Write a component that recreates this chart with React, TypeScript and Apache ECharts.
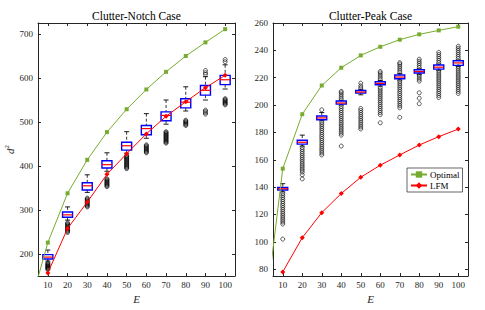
import React, { useEffect, useRef } from "react";
import * as echarts from "echarts";

// ---------- data ----------
const E = [10, 20, 30, 40, 50, 60, 70, 80, 90, 100];
const xTicks = [10, 20, 30, 40, 50, 60, 70, 80, 90, 100];
const notchYTicks = [200, 300, 400, 500, 600, 700];
const peakYTicks = [80, 100, 120, 140, 160, 180, 200, 220, 240, 260];

// leading point of the Optimal curves (outside the visible x range, clipped)
const leadE = 1;
const notchOptimalLead = 83;
const peakOptimalLead = 48;

const notchOptimal = [226, 338, 414, 477, 529, 574, 614, 650, 681, 711];
const notchLFM = [157, 258, 318, 381, 428, 473, 513, 546, 578, 606];
const peakOptimal = [153.5, 193.3, 214.3, 227.3, 236.3, 242.6, 247.8, 251.7, 254.6, 257.3];
const peakLFM = [78, 103, 121.3, 135.3, 147.2, 156, 163.5, 170.8, 176.9, 182.4];

// box stats: [min, Q1, median, Q3, max]
const notchBoxes = [
  [184, 188.6, 193, 198.6, 209],
  [277, 283.4, 289, 295.5, 307],
  [340, 345.5, 355, 362, 380],
  [388, 395.5, 403, 412, 430],
  [429, 436, 446, 454, 478],
  [463, 471, 485, 492, 519],
  [495, 503, 515, 523, 550],
  [525, 532, 545, 553, 580],
  [550, 561, 572, 583, 603],
  [575, 585, 596, 606, 630],
];
const notchOutliers = [
  [180, 178, 176.5, 175, 173.5, 172, 170.5, 169, 167.5, 166, 164.5],
  [271, 269, 267, 265, 263, 261, 259, 257, 255, 253, 251, 249],
  [327, 325, 323, 321, 319, 317, 315, 313, 311, 309, 307],
  [371, 369, 367, 365, 363, 361, 359, 357, 355, 353],
  [424, 422, 420, 418, 416, 414, 412, 410, 408, 406, 404, 402, 400, 398, 396, 394],
  [448, 446, 444, 442, 440, 438, 436, 434, 432, 430],
  [478, 476, 474, 472, 470, 468, 466, 464, 462, 460, 458, 456, 454, 452],
  [504, 502, 500, 498, 496, 494, 492],
  [617, 612, 608, 527, 524, 521, 518],
  [642, 637, 553, 551, 549, 547, 545, 543, 541, 539],
];

const peakBoxes = [
  [136.5, 137.9, 138.8, 139.8, 142.5],
  [170, 171.4, 172.8, 174.3, 178],
  [188.5, 189.2, 190.6, 192, 194.5],
  [200, 200.7, 201.5, 203, 203.5],
  [207.5, 208.7, 209.5, 210.6, 211.5],
  [213.8, 214.8, 215.8, 217, 218],
  [218.3, 219.2, 220.5, 222, 223],
  [222.5, 223.4, 224.5, 225.8, 226.5],
  [225.5, 226.3, 227.7, 229.3, 230],
  [228.3, 229, 230.8, 232.4, 233],
];
const peakOutliers = [
  [135.5, 134, 132.5, 131, 129.5, 128, 126.5, 125, 123.5, 122, 120.5, 119, 117.5, 116, 114.5, 113, 102],
  [169, 167.5, 166, 164.5, 163, 161.5, 160, 158.5, 157, 155.5, 154, 152.5, 151, 149, 146],
  [196.5, 187.5, 186, 184.5, 183, 181.5, 180, 178.5, 177, 175.5, 174, 172.5, 171, 169.5, 168, 166.5, 165, 163.5],
  [204.5, 206, 207.5, 209, 210, 199, 197.5, 196, 194.5, 193, 191.5, 190, 188.5, 187, 185.5, 184, 182.5, 181, 179.5, 178, 170],
  [212.5, 214, 216, 197.5, 196, 194.5, 193, 191.5, 190, 188.5, 187, 185.5, 184, 182.5],
  [219, 220.5, 222, 223.5, 224.5, 212.5, 211, 209.5, 208, 206.5, 205, 203.5, 202, 200.5, 199, 197.5, 196, 194.5, 193, 187],
  [224, 225.5, 227, 228.5, 230, 231, 217.5, 216, 214.5, 213, 211.5, 210, 208.5, 207, 205.5, 204, 202.5, 201, 199.5, 198, 191],
  [227.5, 229, 230.5, 232, 233.5, 222, 220.5, 219, 217.5, 209, 205, 201],
  [231, 232.5, 234, 235.5, 237, 238.5, 225, 223.5, 222, 220.5, 219, 217.5, 216, 214.5, 213, 211.5, 210, 208.5, 207, 205.5],
  [234, 235.5, 237, 238.5, 240, 241.5, 243, 228, 226.5, 225, 223.5, 222, 220.5, 219, 217.5, 216, 214.5, 213, 211.5, 210, 208.5],
];

// ---------- styling ----------
const FONT = "'Liberation Serif', 'Times New Roman', serif";
const TXT = "#262626";
const GREEN = "#77AC30";
const RED = "#FF0000";
const BLUE = "#0000FF";

function buildBoxData(boxes: number[][]) {
  return E.map((e, i) => [e, ...boxes[i]]);
}
function buildOutlierData(outs: number[][]) {
  const d: number[][] = [];
  E.forEach((e, i) => outs[i].forEach((v) => d.push([e, v])));
  return d;
}
function buildLine(vals: number[], lead?: number) {
  const d: any[] = E.map((e, i) => [e, vals[i]]);
  if (lead !== undefined) d.unshift({ value: [leadE, lead], symbol: "none" });
  return d;
}

const boxRender = (params: any, api: any) => {
  const x = api.value(0);
  const pMin = api.coord([x, api.value(1)]);
  const yQ1 = api.coord([x, api.value(2)])[1];
  const yMed = api.coord([x, api.value(3)])[1];
  const yQ3 = api.coord([x, api.value(4)])[1];
  const yMax = api.coord([x, api.value(5)])[1];
  const cx = pMin[0];
  const yMin = pMin[1];
  const w = 10;
  const cw = 5;
  const dash = { stroke: "#000", lineWidth: 0.8, lineDash: [3, 2] };
  const solid = { stroke: "#000", lineWidth: 0.9 };
  return {
    type: "group",
    children: [
      { type: "line", shape: { x1: cx, y1: yMax, x2: cx, y2: yQ3 }, style: dash },
      { type: "line", shape: { x1: cx, y1: yQ1, x2: cx, y2: yMin }, style: dash },
      { type: "line", shape: { x1: cx - cw / 2, y1: yMax, x2: cx + cw / 2, y2: yMax }, style: solid },
      { type: "line", shape: { x1: cx - cw / 2, y1: yMin, x2: cx + cw / 2, y2: yMin }, style: solid },
      {
        type: "rect",
        shape: { x: cx - w / 2, y: yQ3, width: w, height: yQ1 - yQ3 },
        style: { stroke: BLUE, fill: "rgba(255,255,255,0)", lineWidth: 1.4 },
      },
      { type: "line", shape: { x1: cx - w / 2, y1: yMed, x2: cx + w / 2, y2: yMed }, style: { stroke: RED, lineWidth: 1.2 } },
    ],
  };
};

function xAxes(gridIndex: number) {
  const base = {
    type: "value",
    gridIndex,
    min: 5,
    max: 105,
    splitLine: { show: false },
    axisLine: { show: true, onZero: false, lineStyle: { color: TXT, width: 1 } },
  };
  return [
    {
      ...base,
      position: "bottom",
      axisTick: { show: true, inside: true, length: 3, customValues: xTicks, lineStyle: { color: TXT } },
      axisLabel: { customValues: xTicks, color: TXT, fontFamily: FONT, fontSize: 9, margin: 4 },
      name: "E",
      nameLocation: "middle",
      nameGap: 14,
      nameTextStyle: { fontFamily: FONT, fontStyle: "italic", fontSize: 11, color: TXT },
    },
    {
      ...base,
      position: "top",
      axisTick: { show: true, inside: true, length: 3, customValues: xTicks, lineStyle: { color: TXT } },
      axisLabel: { show: false },
    },
  ];
}
function yAxes(gridIndex: number, min: number, max: number, ticks: number[], name?: string) {
  const base = {
    type: "value",
    gridIndex,
    min,
    max,
    splitLine: { show: false },
    axisLine: { show: true, onZero: false, lineStyle: { color: TXT, width: 1 } },
  };
  const left: any = {
    ...base,
    position: "left",
    axisTick: { show: true, inside: true, length: 3, customValues: ticks, lineStyle: { color: TXT } },
    axisLabel: { customValues: ticks, color: TXT, fontFamily: FONT, fontSize: 9, margin: 5 },
  };
  if (name) {
    left.name = name;
    left.nameLocation = "middle";
    left.nameGap = 21;
    left.nameRotate = 90;
    left.nameTextStyle = {
      color: TXT,
      rich: {
        i: { fontFamily: FONT, fontStyle: "italic", fontSize: 11, color: TXT },
        s: { fontFamily: FONT, fontSize: 7, color: TXT, verticalAlign: "top", padding: [0, 0, 6, 0] },
      },
    };
  }
  return [
    left,
    {
      ...base,
      position: "right",
      axisTick: { show: true, inside: true, length: 3, customValues: ticks, lineStyle: { color: TXT } },
      axisLabel: { show: false },
    },
  ];
}

function lineSeries(name: string, data: any[], xi: number, yi: number, color: string, symbol: string, size: number) {
  return {
    type: "line",
    name,
    data,
    xAxisIndex: xi,
    yAxisIndex: yi,
    symbol,
    symbolSize: size,
    showSymbol: true,
    clip: true,
    lineStyle: { color, width: 1 },
    itemStyle: { color },
    z: 4,
  };
}

export default function App() {
  const ref = useRef<HTMLDivElement>(null);
  useEffect(() => {
    if (!ref.current) return;
    const chart = echarts.init(ref.current, undefined, { renderer: "svg" });
    const option: any = {
      animation: false,
      backgroundColor: "#fff",
      grid: [
        { left: 38, top: 23, width: 197, height: 253, outerBoundsMode: "none", containLabel: false },
        { left: 273, top: 23, width: 195, height: 253, outerBoundsMode: "none", containLabel: false },
      ],
      xAxis: [...xAxes(0), ...xAxes(1)],
      yAxis: [
        ...yAxes(0, 150, 725, notchYTicks, "{i|d}{s|2}"),
        ...yAxes(1, 75, 260, peakYTicks),
      ],
      legend: {
        data: ["Optimal", "LFM"],
        orient: "vertical",
        left: 407,
        top: 168,
        backgroundColor: "#fff",
        borderColor: "#000",
        borderWidth: 0.6,
        padding: [2, 3, 2, 3],
        itemGap: 2,
        itemWidth: 16,
        itemHeight: 8,
        textStyle: { fontFamily: FONT, fontSize: 9, color: "#000", padding: [0, 0, 0, -2] },
      },
      graphic: [
        {
          type: "text",
          x: 136.5,
          y: 15.5,
          style: { text: "Clutter-Notch Case", fontFamily: FONT, fontSize: 11.5, fill: "#000", textAlign: "center", textVerticalAlign: "middle" },
        },
        {
          type: "text",
          x: 370.5,
          y: 15.5,
          style: { text: "Clutter-Peak Case", fontFamily: FONT, fontSize: 11.5, fill: "#000", textAlign: "center", textVerticalAlign: "middle" },
        },
      ],
      series: [
        {
          type: "custom",
          name: "notchBox",
          xAxisIndex: 0,
          yAxisIndex: 0,
          data: buildBoxData(notchBoxes),
          encode: { x: 0, y: [1, 2, 3, 4, 5] },
          renderItem: boxRender,
          z: 3,
        },
        {
          type: "scatter",
          name: "notchOut",
          xAxisIndex: 0,
          yAxisIndex: 0,
          data: buildOutlierData(notchOutliers),
          symbol: "circle",
          symbolSize: 4,
          itemStyle: { color: "rgba(0,0,0,0)", borderColor: "#000", borderWidth: 0.8 },
          z: 2,
        },
        lineSeries("Optimal", buildLine(notchOptimal, notchOptimalLead), 0, 0, GREEN, "rect", 4),
        lineSeries("LFM", buildLine(notchLFM), 0, 0, RED, "diamond", 5),
        {
          type: "custom",
          name: "peakBox",
          xAxisIndex: 2,
          yAxisIndex: 2,
          data: buildBoxData(peakBoxes),
          encode: { x: 0, y: [1, 2, 3, 4, 5] },
          renderItem: boxRender,
          z: 3,
        },
        {
          type: "scatter",
          name: "peakOut",
          xAxisIndex: 2,
          yAxisIndex: 2,
          data: buildOutlierData(peakOutliers),
          symbol: "circle",
          symbolSize: 4,
          itemStyle: { color: "rgba(0,0,0,0)", borderColor: "#000", borderWidth: 0.8 },
          z: 2,
        },
        lineSeries("Optimal", buildLine(peakOptimal, peakOptimalLead), 2, 2, GREEN, "rect", 4),
        lineSeries("LFM", buildLine(peakLFM), 2, 2, RED, "diamond", 5),
      ],
    };
    chart.setOption(option);
    return () => chart.dispose();
  }, []);
  return (
    <div
      ref={ref}
      style={{ position: "absolute", left: 0, top: 0, width: 485, height: 310 }}
    />
  );
}
